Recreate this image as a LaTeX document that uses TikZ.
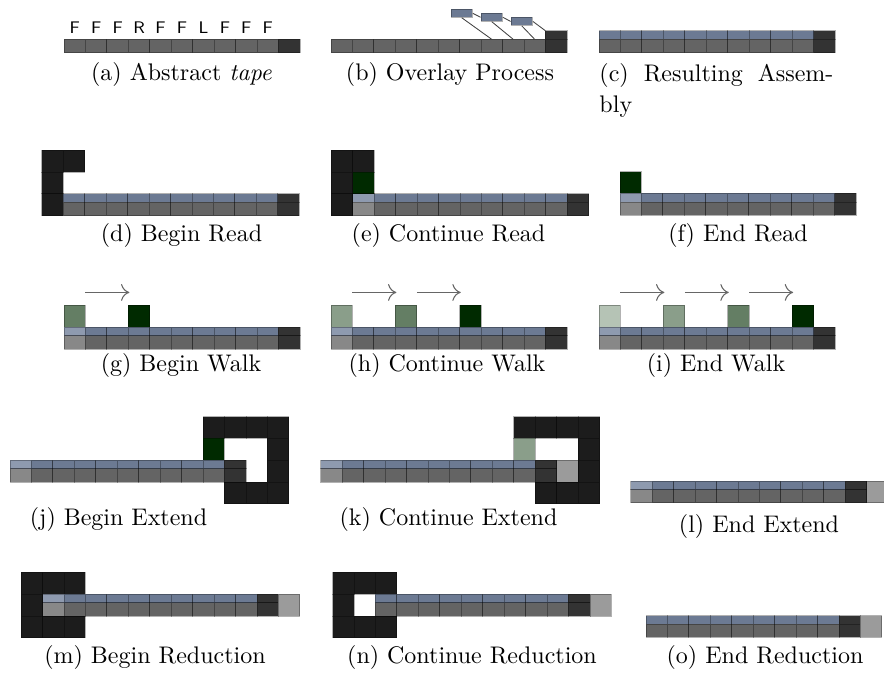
\documentclass[tikz,border=0pt]{standalone}
\usetikzlibrary{arrows.meta}

\definecolor{tapegray}{HTML}{646464}
\definecolor{tapeend}{HTML}{333333}
\definecolor{tapeblue}{HTML}{6C7A93}
\definecolor{lightblue}{HTML}{8E9AAF}
\definecolor{lightgray}{HTML}{888888}
\definecolor{extgray}{HTML}{9B9B9B}
\definecolor{tileblack}{HTML}{1C1C1C}
\definecolor{green0}{HTML}{002A00}
\definecolor{green1}{HTML}{647E64}
\definecolor{green2}{HTML}{8A9E8A}
\definecolor{green3}{HTML}{B5C3B5}

\tikzset{
  cell/.style={draw=black, draw opacity=0.3, line width=0.35pt},
  panel/.style={shift={#1}, x=8.938pt, y=-9.084pt},
  caption/.style={anchor=base, inner sep=0pt, font=\normalsize},
  letter/.style={inner sep=0pt, font=\scriptsize\sffamily},
  block/.style={rectangle, fill=tapeblue, draw=black, draw opacity=0.3, line width=0.35pt,
    minimum width=8.938pt, minimum height=3.3pt, inner sep=0pt},
  glue/.style={draw=black!75, line width=0.35pt},
  walk/.style={draw=black!60, line width=0.45pt, -{To[length=3.5pt,width=7pt]}},
}

% tape cells: col, row (row 0 = tape)
\newcommand{\upcell}[3][tapeblue]{\filldraw[cell,fill=#1] (#2,#3) rectangle ++(1,0.395);}
\newcommand{\lowcell}[3][tapegray]{\filldraw[cell,fill=#1] (#2,#3+0.395) rectangle ++(1,0.605);}
\newcommand{\tile}[3][tileblack]{\filldraw[cell,fill=#1] (#2,#3) rectangle ++(1,1);}
\newcommand{\tape}[2]{\foreach \i in {#1,...,#2}{\upcell{\i}{0}\lowcell{\i}{0}}}
\newcommand{\lightcell}{\upcell[lightblue]{0}{0}\lowcell[lightgray]{0}{0}}
\newcommand{\lastcell}{\upcell[tapeend]{10}{0}\lowcell[tapeend]{10}{0}}

\begin{document}
\begin{tikzpicture}[x=0.4167pt,y=-0.4167pt]
\clip (0,0) rectangle (884,673);

% (a) abstract tape
\begin{scope}[panel={(64,30.8)}]
  \foreach \i in {0,...,9}{\lowcell{\i}{0}}
  \lowcell[tapeend]{10}{0}
  \foreach \l [count=\i from 0] in {F,F,F,R,F,F,L,F,F,F}
    \node[letter] (let\i) at (\i+0.5,-0.13) {\l};
\end{scope}
\node[caption] (capa) at (181.5,81) {(a) Abstract \emph{tape}};

% (b) overlay
\begin{scope}[panel={(331,30.8)}]
  \foreach \i in {0,...,9}{\lowcell{\i}{0}}
  \lastcell
  \node[block] (b1) at (6.094,-0.80) {};
  \node[block] (b2) at (7.493,-0.62) {};
  \node[block] (b3) at (8.892,-0.43) {};
  \coordinate (t7) at (7.5,0.395);
  \coordinate (t8) at (8.5,0.395);
  \coordinate (t9) at (9.5,0.395);
  \coordinate (t10) at (10,0);
  \draw[glue] (b1.east) -- (b2.west);
  \draw[glue] (b2.east) -- (b3.west);
  \draw[glue] (b3.east) -- (t10);
  \draw[glue] (b1.south) -- (t7);
  \draw[glue] (b2.south) -- (t8);
  \draw[glue] (b3.south) -- (t9);
\end{scope}
\node[caption] (capb) at (450,81) {(b) Overlay Process};

% (c) result
\begin{scope}[panel={(599,30.8)}]
  \tape{0}{9}
  \lastcell
\end{scope}
\node[caption, anchor=base west] (capc) at (599,82) {\makebox[97.5pt][s]{(c) Resulting Assem-}};
\node[caption, anchor=base west] (capc2) at (599,112.5) {bly};

% (d) begin read
\begin{scope}[panel={(63.3,193.8)}]
  \foreach \c/\r in {-1/-2,0/-2,-1/-1,-1/0}{\tile{\c}{\r}}
  \tape{0}{9}
  \lastcell
\end{scope}
\node[caption] (capd) at (181.5,242) {(d) Begin Read};

% (e) continue read
\begin{scope}[panel={(352.7,193.8)}]
  \foreach \c/\r in {-1/-2,0/-2,-1/-1,-1/0}{\tile{\c}{\r}}
  \tile[green0]{0}{-1}
  \lightcell
  \tape{1}{9}
  \lastcell
\end{scope}
\node[caption] (cape) at (448.5,242) {(e) Continue Read};

% (f) end read
\begin{scope}[panel={(620,193.5)}]
  \tile[green0]{0}{-1}
  \lightcell
  \tape{1}{9}
  \lastcell
\end{scope}
\node[caption] (capf) at (738,242) {(f) End Read};

% (g) begin walk
\begin{scope}[panel={(64,327.3)}]
  \tile[green1]{0}{-1}
  \tile[green0]{3}{-1}
  \lightcell
  \tape{1}{9}
  \lastcell
  \draw[walk] (1,-1.6) -- (3.05,-1.6);
\end{scope}
\node[caption] (capg) at (181,372) {(g) Begin Walk};

% (h) continue walk
\begin{scope}[panel={(331,327.3)}]
  \tile[green2]{0}{-1}
  \tile[green1]{3}{-1}
  \tile[green0]{6}{-1}
  \lightcell
  \tape{1}{9}
  \lastcell
  \foreach \s in {1,4}{\draw[walk] (\s,-1.6) -- (\s+2.05,-1.6);}
\end{scope}
\node[caption] (caph) at (447,372) {(h) Continue Walk};

% (i) end walk
\begin{scope}[panel={(599,327.3)}]
  \tile[green3]{0}{-1}
  \tile[green2]{3}{-1}
  \tile[green1]{6}{-1}
  \tile[green0]{9}{-1}
  \lightcell
  \tape{1}{9}
  \lastcell
  \foreach \s in {1,4,7}{\draw[walk] (\s,-1.6) -- (\s+2.05,-1.6);}
\end{scope}
\node[caption] (capi) at (716,372) {(i) End Walk};

% (j) begin extend
\begin{scope}[panel={(10,460.3)}]
  \foreach \c/\r in {9/-2,10/-2,11/-2,12/-2,12/-1,12/0,10/1,11/1,12/1}{\tile{\c}{\r}}
  \tile[green0]{9}{-1}
  \lightcell
  \tape{1}{9}
  \lastcell
\end{scope}
\node[caption] (capj) at (118.5,526) {(j) Begin Extend};

% (k) continue extend
\begin{scope}[panel={(320.7,460.3)}]
  \foreach \c/\r in {9/-2,10/-2,11/-2,12/-2,12/-1,12/0,10/1,11/1,12/1}{\tile{\c}{\r}}
  \tile[green2]{9}{-1}
  \lightcell
  \tape{1}{9}
  \lastcell
  \tile[extgray]{11}{0}
\end{scope}
\node[caption] (capk) at (448.5,526) {(k) Continue Extend};

% (l) end extend
\begin{scope}[panel={(630.7,481)}]
  \lightcell
  \tape{1}{9}
  \lastcell
  \tile[extgray]{11}{0}
\end{scope}
\node[caption] (capl) at (759,533) {(l) End Extend};

% (m) begin reduction
\begin{scope}[panel={(42.5,594.3)}]
  \foreach \c/\r in {-1/-1,0/-1,1/-1,-1/0,-1/1,0/1,1/1}{\tile{\c}{\r}}
  \lightcell
  \tape{1}{9}
  \lastcell
  \tile[extgray]{11}{0}
\end{scope}
\node[caption] (capm) at (155,664) {(m) Begin Reduction};

% (n) continue reduction
\begin{scope}[panel={(354,594.3)}]
  \foreach \c/\r in {-1/-1,0/-1,1/-1,-1/0,-1/1,0/1,1/1}{\tile{\c}{\r}}
  \tape{1}{9}
  \lastcell
  \tile[extgray]{11}{0}
\end{scope}
\node[caption] (capn) at (472,664) {(n) Continue Reduction};

% (o) end reduction
\begin{scope}[panel={(624.5,615.7)}]
  \tape{1}{9}
  \lastcell
  \tile[extgray]{11}{0}
\end{scope}
\node[caption] (capo) at (765,664) {(o) End Reduction};
\end{tikzpicture}
\end{document}
